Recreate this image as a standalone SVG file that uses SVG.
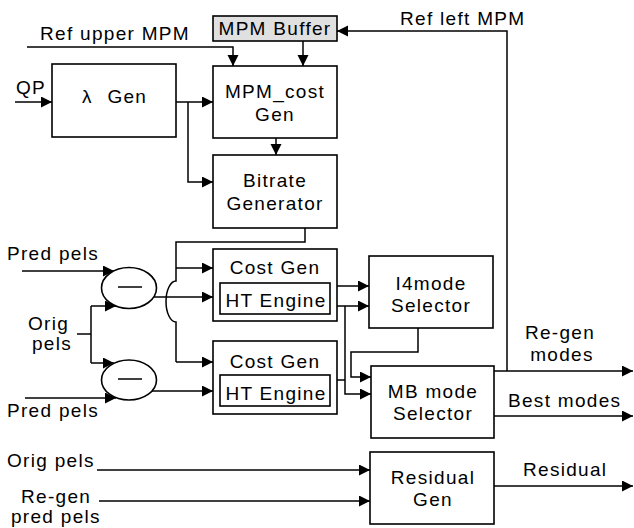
<svg xmlns="http://www.w3.org/2000/svg" width="634" height="528" viewBox="0 0 634 528">
<defs>
<marker id="ah" markerUnits="userSpaceOnUse" markerWidth="12" markerHeight="12" refX="11" refY="5.5" orient="auto">
<path d="M0,0 L11,5.5 L0,11 Z" fill="#000"/>
</marker>
<style>
text{font-family:"Liberation Sans",Arial,sans-serif;font-size:19px;letter-spacing:1.3px;fill:#000}
.c{text-anchor:middle}
.box{fill:#fff;stroke:#000;stroke-width:1.6}
.buf{fill:#e0e0e0;stroke:#000;stroke-width:1.6}
.ln{fill:none;stroke:#000;stroke-width:1.5}
.ar{fill:none;stroke:#000;stroke-width:1.5;marker-end:url(#ah)}
</style>
</defs>
<rect width="634" height="528" fill="#fff"/>

<g id="connectors">
<path class="ar" d="M27,47 H233 V66"/>
<path class="ar" d="M303,41 V66"/>
<path class="ar" d="M507,371 V31 H337"/>
<path class="ar" d="M15,102 H52"/>
<path class="ar" d="M176,102 H213"/>
<path class="ar" d="M188,102 V182 H213"/>
<path class="ar" d="M276,138 V155"/>
<path class="ln" d="M305,228 V242 H176 V281 A10,20.5 0 0 0 176,322 V362"/>
<path class="ar" d="M176,268 H213"/>
<path class="ar" d="M176,362 H213"/>
<path class="ar" d="M22,271 H114"/>
<path class="ln" d="M77,334 H91"/>
<path class="ar" d="M91,306 V306 H116"/>
<path class="ln" d="M91,306 V363"/>
<path class="ar" d="M91,363 H114"/>
<path class="ar" d="M25,398 H116"/>
<path class="ar" d="M153,297 H213"/>
<path class="ar" d="M152,391 H213"/>
<path class="ar" d="M337,286 H369"/>
<path class="ar" d="M337,306 H369"/>
<path class="ar" d="M345,306 V394 H371"/>
<path class="ln" d="M337,380 H345"/>
<path class="ar" d="M418,328 V352 H351 V377 H371"/>
<path class="ar" d="M494,371 H633"/>
<path class="ar" d="M494,416 H633"/>
<path class="ar" d="M97,470 H370"/>
<path class="ar" d="M99,501 H370"/>
<path class="ar" d="M494,486 H633"/>
</g>

<g id="labels">
<text x="40" y="40">Ref upper MPM</text>
<text x="400" y="25">Ref left MPM</text>
<text x="16" y="94">QP</text>
<text x="7" y="260">Pred pels</text>
<text x="28" y="330">Orig</text>
<text x="32" y="350">pels</text>
<text x="7" y="417">Pred pels</text>
<text class="c" x="560" y="339">Re-gen</text>
<text class="c" x="562" y="361">modes</text>
<text x="508" y="407">Best modes</text>
<text x="7" y="467">Orig pels</text>
<text x="21" y="503">Re-gen</text>
<text x="11" y="523">pred pels</text>
<text x="523" y="476">Residual</text>
</g>

<g id="mpm-buffer">
<rect class="buf" x="213" y="16" width="124" height="25"/>
<text class="c" x="275" y="35">MPM Buffer</text>
</g>

<g id="lambda-gen">
<rect class="box" x="52" y="64" width="124" height="73"/>
<text x="82" y="103">λ <tspan dx="8">Gen</tspan></text>
</g>

<g id="mpm-cost-gen">
<rect class="box" x="213" y="66" width="124" height="72"/>
<text class="c" x="275" y="98">MPM_cost</text>
<text class="c" x="275" y="121">Gen</text>
</g>

<g id="bitrate-generator">
<rect class="box" x="213" y="155" width="124" height="73"/>
<text class="c" x="275" y="187">Bitrate</text>
<text class="c" x="275" y="210">Generator</text>
</g>

<g id="subtractor-1">
<ellipse class="box" cx="129" cy="288" rx="27.5" ry="20.5"/>
<line class="ln" x1="118" y1="287" x2="142" y2="287"/>
</g>

<g id="subtractor-2">
<ellipse class="box" cx="129" cy="380" rx="27.5" ry="20"/>
<line class="ln" x1="118" y1="379" x2="142" y2="379"/>
</g>

<g id="cost-gen-1">
<rect class="box" x="213" y="249" width="124" height="72"/>
<text class="c" x="275" y="274">Cost Gen</text>
<rect class="box" x="220" y="283" width="110" height="31"/>
<text class="c" x="276" y="307">HT Engine</text>
</g>

<g id="cost-gen-2">
<rect class="box" x="213" y="341" width="124" height="73"/>
<text class="c" x="275" y="368">Cost Gen</text>
<rect class="box" x="220" y="375" width="110" height="31"/>
<text class="c" x="276" y="400">HT Engine</text>
</g>

<g id="i4mode-selector">
<rect class="box" x="369" y="256" width="124" height="72"/>
<text class="c" x="431" y="290">I4mode</text>
<text class="c" x="431" y="312">Selector</text>
</g>

<g id="mb-mode-selector">
<rect class="box" x="371" y="366" width="123" height="72"/>
<text class="c" x="433" y="398">MB mode</text>
<text class="c" x="433" y="420">Selector</text>
</g>

<g id="residual-gen">
<rect class="box" x="370" y="452" width="124" height="72"/>
<text class="c" x="433" y="484">Residual</text>
<text class="c" x="433" y="506">Gen</text>
</g>
</svg>
